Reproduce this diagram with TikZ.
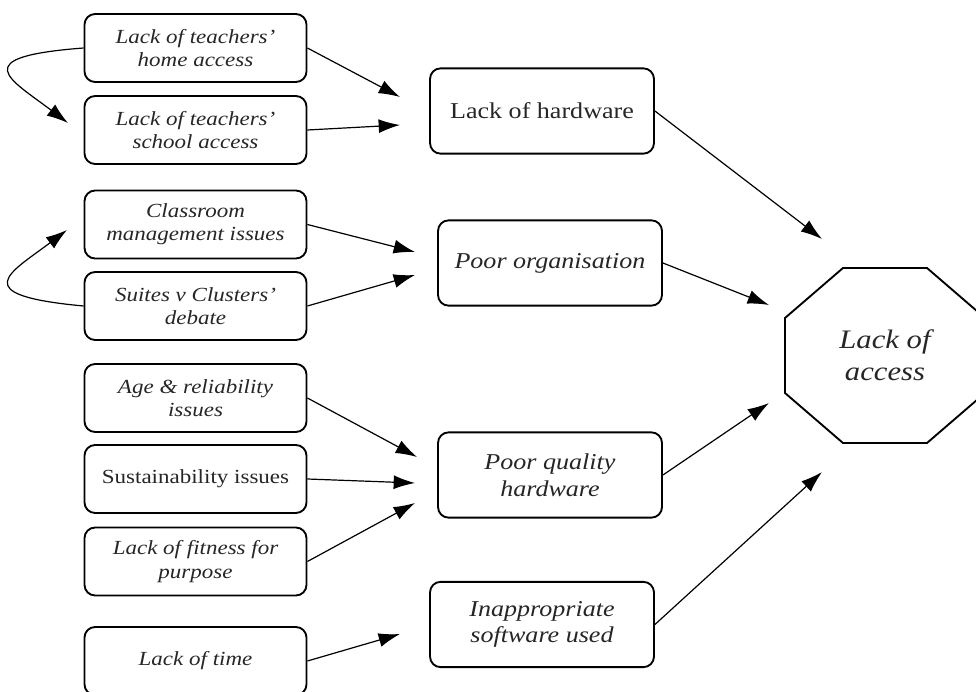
\documentclass[tikz,border=0pt]{standalone}
\usepackage{fontspec}
\setmainfont{Liberation Serif}[FakeStretch=1.15]
\usetikzlibrary{arrows.meta}

\tikzset{
    cause/.style={draw, line width=1.4pt, rounded corners=8pt, align=center, inner sep=0pt,
        minimum width=166.5pt, minimum height=51pt, text=black!85,
        font=\fontsize{15}{17.5}\selectfont\itshape},
    factor/.style={cause, minimum width=168pt, minimum height=64pt,
        font=\fontsize{17}{20}\selectfont\itshape},
    link/.style={-{Latex[length=16pt,width=10.5pt]}, line width=0.9pt}
}

\begin{document}
\begin{tikzpicture}[x=0.75pt, y=0.75pt]
    \useasboundingbox (0,0) rectangle (976,-692);
    \node[cause] (home) at (195.5,-48) {Lack of teachers'\\home access};
    \node[cause] (school) at (195.5,-130) {Lack of teachers'\\school access};
    \node[cause] (classroom) at (195.5,-224.5) {Classroom\\management issues};
    \node[cause] (suites) at (195.5,-306) {Suites v Clusters'\\debate};
    \node[cause] (age) at (195.5,-398) {Age \& reliability\\issues};
    \node[cause, font=\fontsize{15}{17.5}\selectfont] (sustain) at (195.5,-479) {Sustainability issues};
    \node[cause] (fitness) at (195.5,-561.5) {Lack of fitness for\\purpose};
    \node[cause] (time) at (195.5,-661) {Lack of time};
    \node[factor, font=\fontsize{17}{20}\selectfont] (hardware) at (542,-111) {Lack of hardware};
    \node[factor] (organisation) at (550,-263) {Poor organisation};
    \node[factor] (quality) at (550,-475) {Poor quality\\hardware};
    \node[factor] (software) at (542,-624.5) {Inappropriate\\software used};
    \node[align=center, text=black!85, font=\fontsize{20}{24}\selectfont\itshape] (access) at (885,-355.5) {Lack of\\access};
    \draw[line width=1.4pt] (785,-318) -- (843,-268) -- (927,-268) -- (985,-318)
        -- (985,-393) -- (927,-443) -- (843,-443) -- (785,-393) -- cycle;
    \coordinate (homeend) at (400,-97);
    \coordinate (schoolend) at (400,-125);
    \coordinate (schoolloop) at (68,-123);
    \coordinate (classroomend) at (415,-252);
    \coordinate (suitesend) at (415,-275);
    \coordinate (classroomloop) at (67,-230);
    \coordinate (ageend) at (417,-457);
    \coordinate (sustainend) at (415,-483);
    \coordinate (fitnessend) at (415,-503);
    \coordinate (timeend) at (400,-634);
    \coordinate (hardwareend) at (822,-239);
    \coordinate (organisationend) at (769,-305);
    \coordinate (qualityend) at (769,-403);
    \coordinate (softwareend) at (822,-472);
    \draw[link] (home.east) -- (homeend);
    \draw[link] (school.east) -- (schoolend);
    \draw[link] (home.west) .. controls (-35,-57) and (10,-79) .. (schoolloop);
    \draw[link] (classroom.east) -- (classroomend);
    \draw[link] (suites.east) -- (suitesend);
    \draw[link] (suites.west) .. controls (-35,-295) and (10,-273) .. (classroomloop);
    \draw[link] (age.east) -- (ageend);
    \draw[link] (sustain.east) -- (sustainend);
    \draw[link] (fitness.east) -- (fitnessend);
    \draw[link] (time.east) -- (timeend);
    \draw[link] (hardware.east) -- (hardwareend);
    \draw[link] (organisation.east) -- (organisationend);
    \draw[link] (quality.east) -- (qualityend);
    \draw[link] (software.east) -- (softwareend);
\end{tikzpicture}
\end{document}
